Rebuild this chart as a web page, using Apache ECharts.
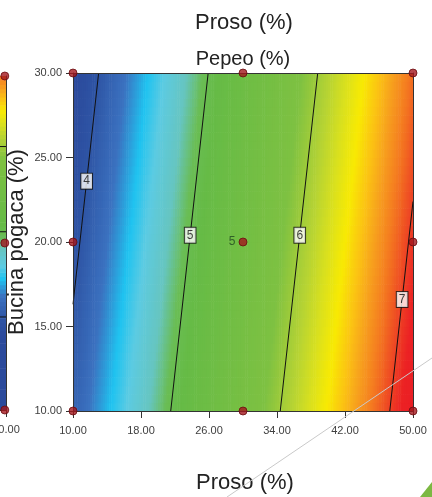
<!DOCTYPE html>
<html>
<head>
<meta charset="utf-8">
<script src="https://cdn.jsdelivr.net/npm/echarts@6/dist/echarts.min.js"></script>
<style>
  html, body { margin: 0; padding: 0; background: #ffffff; }
  #chart { width: 432px; height: 497px; }
</style>
</head>
<body>
<div id="chart"></div>
<script>
// Axis ranges and tick labels
const prosoRange = [10, 50];
const pepeoRange = [10, 30];
const prosoTicks = [10, 18, 26, 34, 42, 50];
const pepeoTicks = [10, 15, 20, 25, 30];

// Fitted linear response surface: R = b0 + bProso*Proso + bPepeo*Pepeo
const surfaceIntercept = 3.503;
const surfaceProsoSlope = 0.0776;
const surfacePepeoSlope = -0.0171;

// Contour levels and the Pepeo value where each level's tag sits
const contourLevels = [4, 5, 6, 7];
const contourTagPepeo = [23.6, 20.4, 20.4, 16.6];

// Design points (Proso, Pepeo); the centre point is replicated
const designProso = [10, 30, 50, 10, 50, 10, 30, 50];
const designPepeo = [30, 30, 30, 20, 20, 10, 10, 10];
const centrePoint = [30, 20];
const centreReplicates = 5;

// Neighbouring panel: response along its right edge, R = a0 + aPepeo*Pepeo
const sideIntercept = 0.948;
const sidePepeoSlope = 0.196;
const sideLevels = [6, 5, 4];
const sideDesignPepeo = [30, 20, 10];

// Colour ramp of the response (blue = low, red = high): stop values and colours
const rampValues = [3.8, 4.0, 4.25, 4.35, 4.45, 4.6, 4.8, 4.95, 5.1, 5.85, 6.1, 6.28, 6.42, 6.56, 6.69, 6.83, 6.97, 7.1, 7.25];
const rampColors = ['#2b4a9c', '#2f55a5', '#3b72c0', '#2e9ad8', '#1fc3f0', '#5ccbe2', '#66c5c0', '#6abd55', '#66bb46',
                    '#7ec142', '#b5d334', '#dce11c', '#f8ea02', '#fbc413', '#f7a01e', '#f47a20', '#ee4a24', '#ec2224', '#e81c24'];

function hexToRgb(h) {
  return [parseInt(h.slice(1, 3), 16), parseInt(h.slice(3, 5), 16), parseInt(h.slice(5, 7), 16)];
}
// Evenly spaced colour list for the visualMap, built from the stops above
const rampStep = 0.025;
const rampMin = rampValues[0];
const rampMax = rampValues[rampValues.length - 1];
const rampList = [];
for (let v = rampMin; v <= rampMax + 1e-9; v += rampStep) {
  let k = 0;
  while (k < rampValues.length - 2 && v > rampValues[k + 1]) k++;
  const t = Math.max(0, Math.min(1, (v - rampValues[k]) / (rampValues[k + 1] - rampValues[k])));
  const c0 = hexToRgb(rampColors[k]), c1 = hexToRgb(rampColors[k + 1]);
  rampList.push('rgb(' + c0.map(function (c, i) { return Math.round(c + (c1[i] - c) * t); }).join(',') + ')');
}
const rampTop = rampMin + (rampList.length - 1) * rampStep;

function response(p, q) {
  return surfaceIntercept + surfaceProsoSlope * p + surfacePepeoSlope * q;
}
function prosoAtLevel(level, q) {
  return (level - surfaceIntercept - surfacePepeoSlope * q) / surfaceProsoSlope;
}
function pepeoAtLevel(level, p) {
  return (level - surfaceIntercept - surfaceProsoSlope * p) / surfacePepeoSlope;
}

// Sample the surface on a fine grid of cells
const cellW = 0.25, cellH = 0.5;
const fieldCells = [];
for (let p = prosoRange[0] + cellW / 2; p < prosoRange[1]; p += cellW) {
  for (let q = pepeoRange[0] + cellH / 2; q < pepeoRange[1]; q += cellH) {
    fieldCells.push([p, q, response(p, q)]);
  }
}

// Contour segments clipped to the plotting rectangle
function contourSegment(level) {
  const pts = [];
  [pepeoRange[1], pepeoRange[0]].forEach(function (q) {
    let p = prosoAtLevel(level, q);
    if (p < prosoRange[0]) { p = prosoRange[0]; q = pepeoAtLevel(level, p); }
    if (p > prosoRange[1]) { p = prosoRange[1]; q = pepeoAtLevel(level, p); }
    pts.push([p, q]);
  });
  return pts;
}

// Side panel strip cells (only its right edge is in view)
const sideCellH = 0.25;
const sideCells = [];
for (let q = pepeoRange[0] + sideCellH / 2; q < pepeoRange[1]; q += sideCellH) {
  sideCells.push([45, q, sideIntercept + sidePepeoSlope * q]);
}
const sideContourSeries = sideLevels.map(function (lv) {
  const q = (lv - sideIntercept) / sidePepeoSlope;
  return {
    type: 'line', xAxisIndex: 2, yAxisIndex: 2, silent: true, z: 5,
    symbol: 'none', data: [[40, q], [50, q]],
    lineStyle: { color: '#111', width: 1 }
  };
});

function cellRenderer(halfW, halfH) {
  return function (params, api) {
    const p = api.value(0), q = api.value(1);
    const a = api.coord([p - halfW, q + halfH]);
    const b = api.coord([p + halfW, q - halfH]);
    return {
      type: 'rect',
      shape: { x: a[0], y: a[1], width: b[0] - a[0] + 0.6, height: b[1] - a[1] + 0.6 },
      style: { fill: api.visual('color') }
    };
  };
}

const fmt2 = function (v) { return Number(v).toFixed(2); };
const labelFont = { color: '#404040', fontSize: 11, fontFamily: 'Liberation Sans, Arial, sans-serif' };

const chart = echarts.init(document.getElementById('chart'), null, { renderer: 'canvas' });

const contourSeries = contourLevels.map(function (lv) {
  return {
    type: 'line', xAxisIndex: 0, yAxisIndex: 0, silent: true, z: 5,
    symbol: 'none', data: contourSegment(lv),
    lineStyle: { color: '#111', width: 1 }
  };
});

const option = {
  animation: false,
  backgroundColor: '#ffffff',
  grid: [
    { left: 73, top: 73, width: 340, height: 338, outerBoundsMode: 'none', containLabel: false },
    { left: 73, top: 73, width: 340, height: 338, outerBoundsMode: 'none', containLabel: false },
    { left: -54, top: 76, width: 60, height: 334, outerBoundsMode: 'none', containLabel: false }
  ],
  xAxis: [
    {
      type: 'value', gridIndex: 0, min: prosoRange[0], max: prosoRange[1], interval: 8, z: 10,
      axisLine: { show: true, lineStyle: { color: '#333', width: 1 } },
      axisTick: { show: true, length: 7, lineStyle: { color: '#333' } },
      axisLabel: Object.assign({ margin: 14, formatter: fmt2 }, labelFont),
      splitLine: { show: false }
    },
    {
      type: 'value', gridIndex: 1, position: 'top', min: prosoRange[0], max: prosoRange[1], z: 10,
      axisLine: { show: true, onZero: false, lineStyle: { color: '#333', width: 1 } },
      axisTick: { show: false }, axisLabel: { show: false }, splitLine: { show: false }
    },
    {
      type: 'value', gridIndex: 2, min: 40, max: 50, interval: 10, z: 10,
      axisLine: { show: true, lineStyle: { color: '#333', width: 1 } },
      axisTick: { show: true, length: 7, lineStyle: { color: '#333' } },
      axisLabel: Object.assign({ margin: 14, formatter: function (v) { return v === 50 ? '50.00' : ''; } }, labelFont),
      splitLine: { show: false }
    }
  ],
  yAxis: [
    {
      type: 'value', gridIndex: 0, min: pepeoRange[0], max: pepeoRange[1], interval: 5, z: 10,
      axisLine: { show: true, lineStyle: { color: '#333', width: 1 } },
      axisTick: { show: true, length: 7, lineStyle: { color: '#333' } },
      axisLabel: Object.assign({ margin: 11, formatter: fmt2 }, labelFont),
      splitLine: { show: false }
    },
    {
      type: 'value', gridIndex: 1, position: 'right', min: pepeoRange[0], max: pepeoRange[1], z: 10,
      axisLine: { show: true, onZero: false, lineStyle: { color: '#333', width: 1 } },
      axisTick: { show: false }, axisLabel: { show: false }, splitLine: { show: false }
    },
    {
      type: 'value', gridIndex: 2, position: 'right', min: pepeoRange[0], max: pepeoRange[1], z: 10,
      axisLine: { show: true, onZero: false, lineStyle: { color: '#333', width: 1 } },
      axisTick: { show: false }, axisLabel: { show: false }, splitLine: { show: false }
    }
  ],
  visualMap: {
    show: false, type: 'continuous', seriesIndex: [0, 1], dimension: 2,
    min: rampMin, max: rampTop, inRange: { color: rampList }
  },
  series: [
    {
      type: 'custom', xAxisIndex: 0, yAxisIndex: 0, silent: true, z: 1,
      renderItem: cellRenderer(cellW / 2, cellH / 2), data: fieldCells
    },
    {
      type: 'custom', xAxisIndex: 2, yAxisIndex: 2, silent: true, z: 1,
      renderItem: cellRenderer(5, sideCellH / 2), data: sideCells
    }
  ].concat(contourSeries).concat(sideContourSeries).concat([
    {
      type: 'scatter', xAxisIndex: 0, yAxisIndex: 0, silent: true, z: 15,
      symbolSize: 1,
      itemStyle: { color: 'rgba(0,0,0,0)' },
      data: contourLevels.map(function (lv, i) {
        return [prosoAtLevel(lv, contourTagPepeo[i]), contourTagPepeo[i], lv];
      }),
      label: {
        show: true, position: 'inside', formatter: function (d) { return String(d.value[2]); },
        color: '#111', fontSize: 12, fontFamily: 'Liberation Sans, Arial, sans-serif',
        backgroundColor: '#ffffff', borderColor: '#111', borderWidth: 1, padding: [2, 2, 1, 2]
      }
    },
    {
      type: 'scatter', xAxisIndex: 0, yAxisIndex: 0, silent: true, z: 20,
      symbolSize: 8,
      itemStyle: { color: '#a3161d', borderColor: '#6a0c10', borderWidth: 1 },
      data: designProso.map(function (p, i) { return [p, designPepeo[i]]; })
    },
    {
      type: 'scatter', xAxisIndex: 0, yAxisIndex: 0, silent: true, z: 20,
      symbolSize: 8,
      itemStyle: { color: '#a3161d', borderColor: '#6a0c10', borderWidth: 1 },
      data: [centrePoint],
      label: {
        show: true, position: 'left', distance: 3, formatter: String(centreReplicates),
        color: '#1f4a1f', fontSize: 12, fontFamily: 'Liberation Sans, Arial, sans-serif'
      }
    },
    {
      type: 'scatter', xAxisIndex: 2, yAxisIndex: 2, silent: true, z: 20,
      symbolSize: 8,
      itemStyle: { color: '#a3161d', borderColor: '#6a0c10', borderWidth: 1 },
      data: sideDesignPepeo.map(function (q) { return [49.8, q]; })
    }
  ]),
  graphic: [
    {
      type: 'text', x: 244, y: 23, z: 50,
      style: { text: 'Proso (%)', fill: '#222', font: '22px "Liberation Sans", Arial, sans-serif', textAlign: 'center', textVerticalAlign: 'middle' }
    },
    {
      type: 'text', x: 243, y: 59, z: 50,
      style: { text: 'Pepeo (%)', fill: '#222', font: '20px "Liberation Sans", Arial, sans-serif', textAlign: 'center', textVerticalAlign: 'middle' }
    },
    {
      type: 'text', x: 245, y: 483, z: 50,
      style: { text: 'Proso (%)', fill: '#222', font: '22px "Liberation Sans", Arial, sans-serif', textAlign: 'center', textVerticalAlign: 'middle' }
    },
    {
      type: 'text', x: 17, y: 242, rotation: Math.PI / 2, z: 50,
      style: { text: 'Bucina pogaca (%)', fill: '#222', font: '22px "Liberation Sans", Arial, sans-serif', textAlign: 'center', textVerticalAlign: 'middle' }
    },
    {
      type: 'line', z: 60, silent: true,
      shape: { x1: 227, y1: 497, x2: 432, y2: 358 },
      style: { stroke: '#c9c9c9', lineWidth: 1 }
    },
    {
      type: 'polygon', z: 60, silent: true,
      shape: { points: [[420, 497], [432, 482], [432, 497]] },
      style: { fill: '#7cb842' }
    }
  ]
};

chart.setOption(option);
</script>
</body>
</html>
